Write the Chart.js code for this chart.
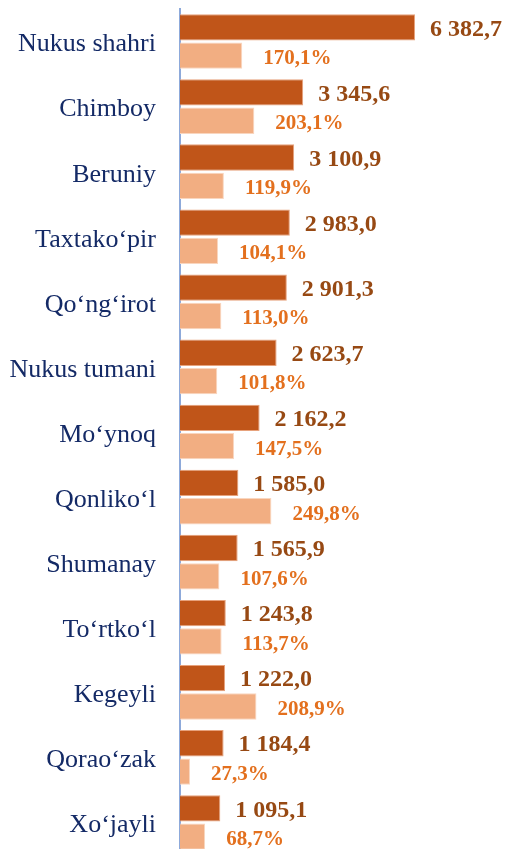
<!DOCTYPE html>
<html>
<head>
<meta charset="utf-8">
<script src="https://cdn.jsdelivr.net/npm/chart.js@4/dist/chart.umd.min.js"></script>
<style>
  html, body { margin: 0; padding: 0; background: #fff; overflow: hidden; }
  #wrap { position: absolute; left: 0; top: 0; width: 505px; height: 855px; }
</style>
</head>
<body>
<div id="wrap"><canvas id="myChart" width="505" height="855"></canvas></div>
<script>
const districts = ['Nukus shahri', 'Chimboy', 'Beruniy', 'Taxtako‘pir', 'Qo‘ng‘irot', 'Nukus tumani',
  'Mo‘ynoq', 'Qonliko‘l', 'Shumanay', 'To‘rtko‘l', 'Kegeyli', 'Qorao‘zak', 'Xo‘jayli']
const volumes = [6382.7, 3345.6, 3100.9, 2983.0, 2901.3, 2623.7, 2162.2, 1585.0, 1565.9, 1243.8, 1222.0, 1184.4, 1095.1]
const growth = [170.1, 203.1, 119.9, 104.1, 113.0, 101.8, 147.5, 249.8, 107.6, 113.7, 208.9, 27.3, 68.7]

function formatVolume (v) {
  const parts = v.toFixed(1).split('.')
  const whole = parts[0].replace(/\B(?=(\d{3})+(?!\d))/g, ' ')
  return whole + ',' + parts[1]
}

function formatGrowth (v) {
  return v.toFixed(1).replace('.', ',') + '%'
}

// draws the value text right after each bar
const barLabels = {
  id: 'barLabels',
  afterDatasetsDraw (chart) {
    const ctx = chart.ctx
    ctx.save()
    ctx.textBaseline = 'middle'
    ctx.textAlign = 'left'
    chart.getDatasetMeta(0).data.forEach(function (bar, i) {
      ctx.font = 'bold 24px "Liberation Serif"'
      ctx.fillStyle = '#974913'
      ctx.fillText(formatVolume(volumes[i]), bar.x + 15, bar.y + 2)
    })
    chart.getDatasetMeta(1).data.forEach(function (bar, i) {
      ctx.font = 'bold 21px "Liberation Serif"'
      ctx.fillStyle = '#E3701E'
      ctx.fillText(formatGrowth(growth[i]), bar.x + 21, bar.y + 3)
    })
    ctx.restore()
  }
}

const ctx = document.getElementById('myChart').getContext('2d')
// eslint-disable-next-line no-unused-vars
const myChart = new Chart(ctx, {
  type: 'bar',
  data: {
    labels: districts,
    datasets: [{
      data: volumes,
      xAxisID: 'x',
      backgroundColor: '#C05519',
      borderColor: '#E7A27C',
      borderWidth: 1,
      categoryPercentage: 0.87,
      barPercentage: 0.93
    }, {
      data: growth,
      xAxisID: 'x2',
      backgroundColor: '#F2AE82',
      borderColor: '#F9D6BF',
      borderWidth: 1,
      categoryPercentage: 0.87,
      barPercentage: 0.93
    }]
  },
  options: {
    indexAxis: 'y',
    responsive: false,
    animation: false,
    layout: { padding: { top: 9, right: 0, bottom: 0, left: 0 } },
    plugins: {
      legend: { display: false },
      tooltip: { enabled: false }
    },
    scales: {
      x: { display: false, min: 0, max: 8827 },
      x2: { display: false, min: 0, max: 888 },
      y: {
        afterFit: function (scale) {
          scale.width = 180
          scale.paddingTop = 0
          scale.paddingBottom = 0
        },
        grid: { display: false, drawTicks: false, tickLength: 0 },
        border: { display: true, color: '#8DA9DA', width: 2 },
        ticks: {
          padding: 24,
          labelOffset: 3,
          color: '#142A66',
          font: { family: '"Liberation Serif"', size: 26 }
        }
      }
    }
  },
  plugins: [barLabels]
})
</script>
</body>
</html>
